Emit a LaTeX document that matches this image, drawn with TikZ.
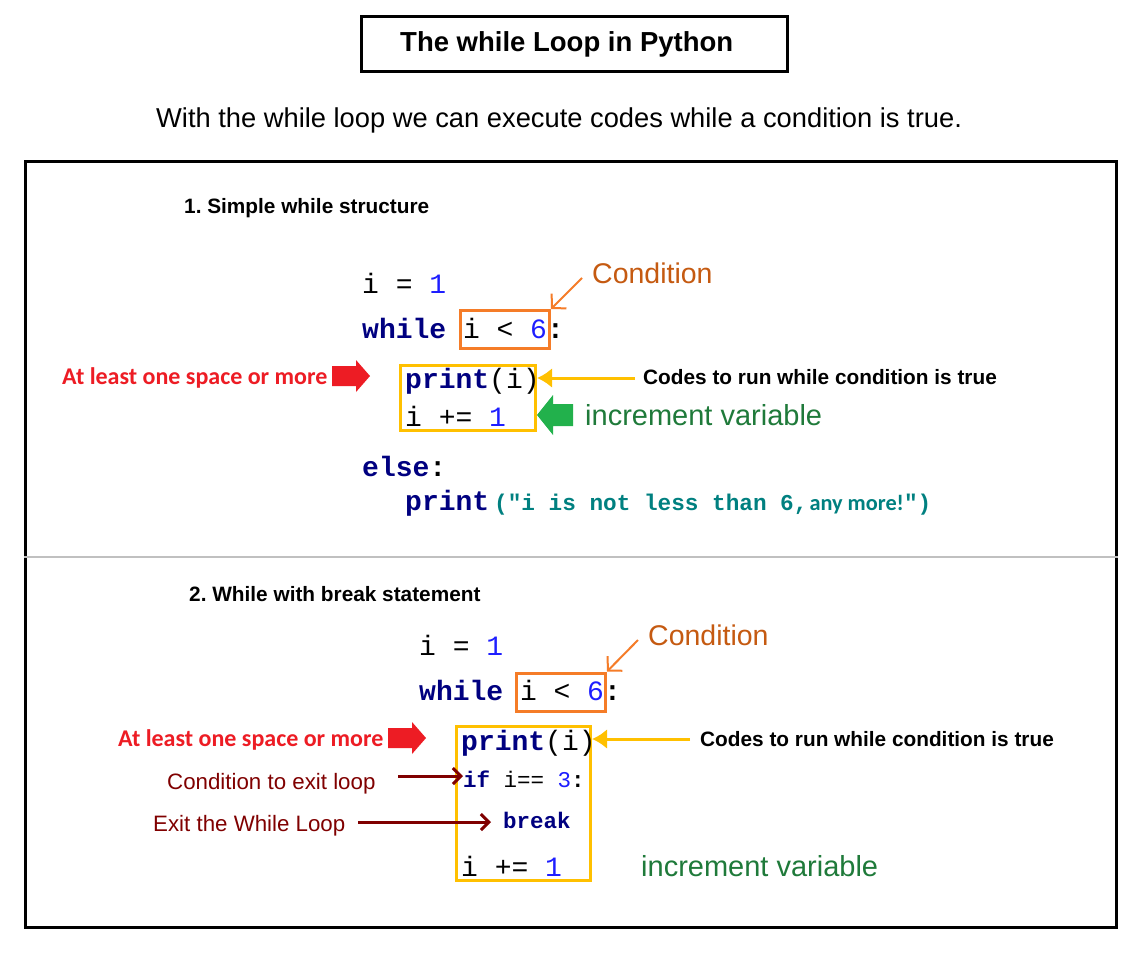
\documentclass[tikz,border=0pt]{standalone}
\usepackage{fontspec}
\setmainfont{Liberation Sans}
\newfontfamily\monof{Liberation Mono}
\newfontfamily\calf{Carlito}
\usetikzlibrary{arrows.meta}
\definecolor{navy}{HTML}{000080}
\definecolor{numblue}{HTML}{1E1EFF}
\definecolor{strteal}{HTML}{008080}
\definecolor{condtxt}{HTML}{C55A11}
\definecolor{condbox}{HTML}{F57C28}
\definecolor{yel}{HTML}{FFC000}
\definecolor{garrow}{HTML}{22B14C}
\definecolor{gtxt}{HTML}{1F7A3A}
\definecolor{redc}{HTML}{ED1C24}
\definecolor{maroon}{HTML}{800000}
\definecolor{divgray}{HTML}{C0C0C0}
\newcommand\fsz[1]{\fontsize{#1}{#1}\selectfont}
\frenchspacing
\begin{document}
\begin{tikzpicture}[x=1pt,y=-1pt,
  txt/.style={anchor=base west, inner sep=0pt},
  code/.style={txt, font=\monof\fsz{28}},
  smallcode/.style={txt, font=\monof\fsz{22.5}},
  head/.style={txt, font=\bfseries\fsz{20.8}},
  condlbl/.style={txt, font=\fsz{28.5}, text=condtxt},
  incr/.style={txt, font=\fsz{29}, text=gtxt},
  runlbl/.style={txt, font=\bfseries\fsz{20.8}},
  spacelbl/.style={txt, font=\calf\bfseries\fsz{24}, text=redc},
  exitlbl/.style={txt, font=\fsz{22.3}, text=maroon},
  condboxst/.style={draw=condbox, line width=3pt, minimum width=89pt, minimum height=38pt, inner sep=0pt},
  bodybox/.style={draw=yel, line width=3pt, inner sep=0pt},
  condarrow/.style={draw=condbox, line width=2pt, -{Straight Barb[length=10pt,width=21pt]}},
  yarrow/.style={draw=yel, line width=3pt, -{Latex[length=15pt,width=20pt]}},
  marrow/.style={draw=maroon, line width=3pt, -{Straight Barb[length=8pt,width=16pt]}}]
\useasboundingbox (0,0) rectangle (1142,954);
\fill[white] (0,0) rectangle (1142,954);

% title
\node[draw, line width=3pt, minimum width=426pt, minimum height=55pt, inner sep=0pt] (titlebox) at (574.5,44) {};
\node[txt, font=\bfseries\fsz{27.5}] (title) at (400,51) {The while Loop in Python};
\node[txt, font=\fsz{27.3}] (subtitle) at (156,127) {With the while loop we can execute codes while a condition is true.};

% frame
\node[draw, line width=3pt, minimum width=1091pt, minimum height=766pt, inner sep=0pt] (frame) at (571,544.5) {};
\draw[divgray, line width=2pt] (frame.west |- 0,557) -- (frame.east |- 0,557);

% ---------- section 1
\node[head] (h1) at (184,213) {1. Simple while structure};
\node[code] (a1) at (362,293) {i = {\color{numblue}1}};
\node[code] (w1) at (362,338) {{\bfseries\color{navy}while} i < {\color{numblue}6}{\bfseries :}};
\node[condboxst] (cond1) at (505,329.5) {};
\node[bodybox, minimum width=135pt, minimum height=65pt] (body1) at (468,398) {};
\node[code] (p1) at (405,388) {{\bfseries\color{navy}print}(i)};
\node[code] (inc1) at (405,426) {i += {\color{numblue}1}};
\node[code] (e1) at (362,476) {\bfseries\color{navy}else{\color{black}:}};
\node[code] (pe1) at (405,510) {{\bfseries\color{navy}print}\hspace{5pt}{\fsz{22.7}\bfseries\color{strteal}("i is not less than 6,\hspace{2pt}{\calf\fsz{22.3}any more!}")}};

\node[condlbl] (cl1) at (592,283) {Condition};
\coordinate (cs1) at (582,278);
\draw[condarrow] (cs1) -- (cond1.north east);

\node[runlbl] (run1) at (643,384) {Codes to run while condition is true};
\coordinate (ys1) at (635,378);
\draw[yarrow] (ys1) -- (body1.east |- ys1);

\node[incr] (il1) at (585,425) {increment variable};
\fill[garrow] (537,415) -- (553,395) -- (553,404) -- (573,404) -- (573,426) -- (553,426) -- (553,435) -- cycle;

\node[spacelbl] (sl1) at (62,384) {At least one space or more};
\fill[redc] (370,376) -- (356,360) -- (356,366) -- (332,366) -- (332,386) -- (356,386) -- (356,392) -- cycle;

% ---------- section 2
\node[head] (h2) at (189,601) {2. While with break statement};
\node[code] (a2) at (419,655) {i = {\color{numblue}1}};
\node[code] (w2) at (419,700) {{\bfseries\color{navy}while} i < {\color{numblue}6}{\bfseries :}};
\node[condboxst] (cond2) at (561,692) {};
\node[bodybox, minimum width=134pt, minimum height=154pt] (body2) at (523.5,803.5) {};
\node[code] (p2) at (461,750) {{\bfseries\color{navy}print}(i)};
\node[smallcode] (if2) at (463,787) {{\bfseries\color{navy}if} i== {\color{numblue}3}{\bfseries :}};
\node[smallcode] (brk2) at (503,828) {\bfseries\color{navy}break};
\node[code] (inc2) at (461,876) {i += {\color{numblue}1}};

\node[condlbl] (cl2) at (648,645) {Condition};
\coordinate (cs2) at (638,640);
\draw[condarrow] (cs2) -- (cond2.north east);

\node[runlbl] (run2) at (700,746) {Codes to run while condition is true};
\coordinate (ys2) at (690,739);
\draw[yarrow] (ys2) -- (body2.east |- ys2);

\node[incr] (il2) at (641,876) {increment variable};

\node[spacelbl] (sl2) at (118,746) {At least one space or more};
\fill[redc] (426,738) -- (412,722) -- (412,728) -- (388,728) -- (388,748) -- (412,748) -- (412,754) -- cycle;

\node[exitlbl] (ce2) at (167,789) {Condition to exit loop};
\coordinate (ms1) at (398,776);
\draw[marrow] (ms1) -- (if2.west |- ms1);

\node[exitlbl] (ew2) at (153,831) {Exit the While Loop};
\coordinate (ms2) at (358,822);
\draw[marrow] (ms2) -- ([xshift=-12pt]brk2.west |- ms2);
\end{tikzpicture}
\end{document}
